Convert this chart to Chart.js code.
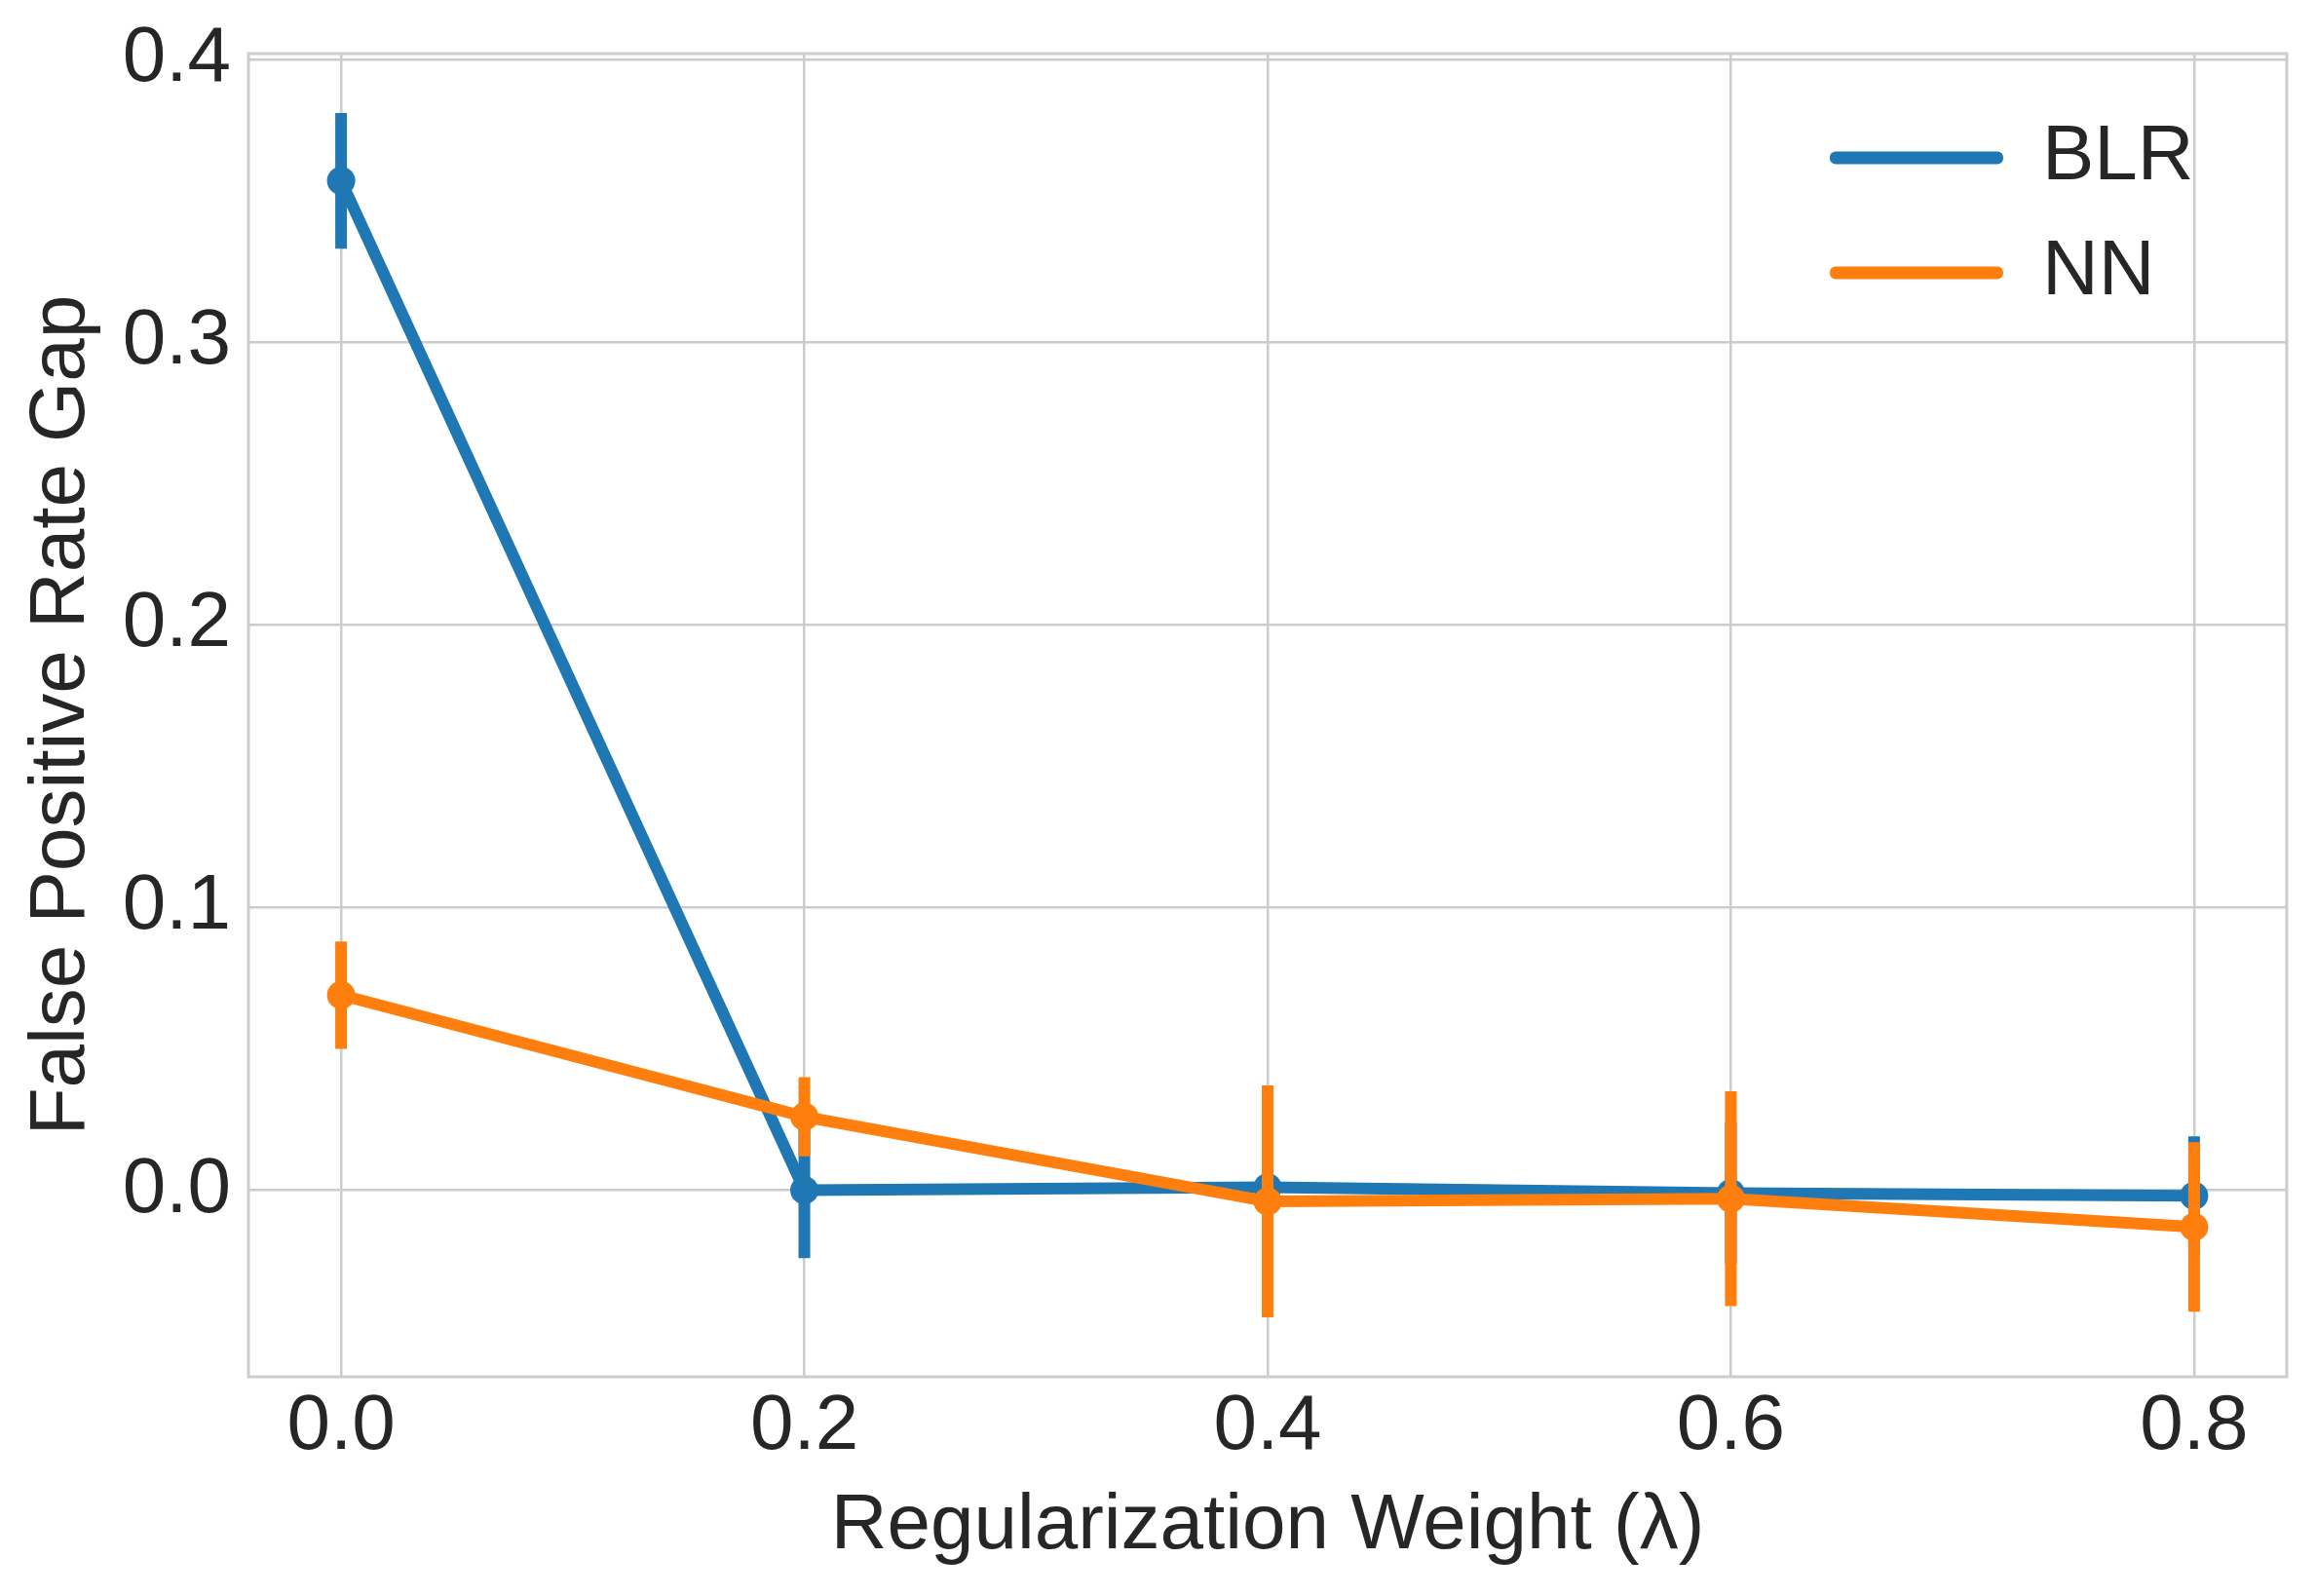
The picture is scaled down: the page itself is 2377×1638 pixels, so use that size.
<!DOCTYPE html>
<html>
<head>
<meta charset="utf-8">
<script src="https://cdn.jsdelivr.net/npm/chart.js@4/dist/chart.umd.min.js"></script>
<style>
  body { margin: 0; background: #fff; }
  #wrap { width: 2377px; height: 1638px; }
</style>
</head>
<body>
<div id="wrap"><canvas id="fprChart"></canvas></div>
<script>
// values
const lambdas = [0.0, 0.2, 0.4, 0.6, 0.8];
const blrGap = [0.357, 0.000, 0.001, -0.001, -0.002];
const blrErr = [0.024, 0.024, 0.024, 0.025, 0.021];
const nnGap = [0.069, 0.026, -0.004, -0.003, -0.013];
const nnErr = [0.019, 0.014, 0.041, 0.038, 0.030];
const xTicks = [0.0, 0.2, 0.4, 0.6, 0.8];
const yTicks = [0.0, 0.1, 0.2, 0.3, 0.4];

const errors = [blrErr, nnErr];
const textColor = '#262626';
const gridColor = '#cccccc';

Chart.defaults.font.family = '"Liberation Sans", Arial, sans-serif';
Chart.defaults.color = textColor;

// vertical error bars, drawn just before each dataset's line
const errorBars = {
    id: 'errorBars',
    beforeDatasetDraw(chart, args) {
        const ds = chart.data.datasets[args.index];
        const err = errors[args.index];
        const xs = chart.scales.x, ys = chart.scales.y;
        const ctx = chart.ctx;
        ctx.save();
        ctx.strokeStyle = ds.borderColor;
        ctx.lineWidth = 12;
        ctx.lineCap = 'butt';
        ds.data.forEach((pt, i) => {
            const px = xs.getPixelForValue(pt.x);
            ctx.beginPath();
            ctx.moveTo(px, ys.getPixelForValue(pt.y - err[i]));
            ctx.lineTo(px, ys.getPixelForValue(pt.y + err[i]));
            ctx.stroke();
        });
        ctx.restore();
    }
};

// light frame round the plot, and legend moved into the upper right
const frame = {
    id: 'frame',
    afterLayout(chart) {
        const lg = chart.legend;
        lg.left = 1840;
        lg.right = lg.left + lg.width;
        lg.top = 84;
        lg.bottom = lg.top + lg.height;
    },
    beforeDatasetsDraw(chart) {
        const {ctx, chartArea: a} = chart;
        ctx.save();
        ctx.strokeStyle = gridColor;
        ctx.lineWidth = 3;
        ctx.strokeRect(a.left, a.top, a.right - a.left, a.bottom - a.top);
        ctx.restore();
    }
};

const chart = new Chart(document.getElementById('fprChart'), {
    type: 'line',
    data: {
        datasets: [
            {
                label: 'BLR',
                data: lambdas.map((x, i) => ({x: x, y: blrGap[i]})),
                borderColor: '#1f77b4',
                backgroundColor: '#1f77b4',
                order: 1
            },
            {
                label: 'NN',
                data: lambdas.map((x, i) => ({x: x, y: nnGap[i]})),
                borderColor: '#ff7f0e',
                backgroundColor: '#ff7f0e',
                order: 0
            }
        ]
    },
    options: {
        responsive: true,
        maintainAspectRatio: false,
        devicePixelRatio: 1,
        animation: false,
        layout: { padding: { left: 0, right: 30, top: 55, bottom: 0 } },
        elements: {
            line: { borderWidth: 12, tension: 0, borderCapStyle: 'round' },
            point: { radius: 14.5, borderWidth: 0, hoverRadius: 14.5 }
        },
        scales: {
            x: {
                type: 'linear',
                min: -0.04,
                max: 0.84,
                afterBuildTicks: (s) => { s.ticks = xTicks.map(v => ({value: v})); },
                afterFit: (s) => { s.height = 225; s.paddingLeft = 0; s.paddingRight = 0; },
                ticks: {
                    padding: 4,
                    font: { size: 80, lineHeight: 1.2 },
                    color: textColor,
                    callback: (v) => v.toFixed(1)
                },
                grid: { color: gridColor, lineWidth: 2.5, drawTicks: false },
                border: { display: false },
                title: {
                    display: true,
                    text: 'Regularization Weight (λ)',
                    font: { size: 80, lineHeight: 1.2 },
                    color: textColor,
                    padding: { top: 0, bottom: 23 }
                }
            },
            y: {
                min: -0.066,
                max: 0.402,
                afterBuildTicks: (s) => { s.ticks = yTicks.map(v => ({value: v})); },
                afterFit: (s) => { s.width = 255; s.paddingTop = 0; s.paddingBottom = 0; },
                ticks: {
                    padding: 18,
                    font: { size: 80, lineHeight: 1.2 },
                    color: textColor,
                    callback: (v) => v.toFixed(1)
                },
                grid: { color: gridColor, lineWidth: 2.5, drawTicks: false },
                border: { display: false },
                title: {
                    display: true,
                    text: 'False Positive Rate Gap',
                    font: { size: 80, lineHeight: 1.2 },
                    color: textColor,
                    padding: { top: 16, bottom: 0 }
                }
            }
        },
        plugins: {
            tooltip: { enabled: false },
            legend: {
                position: 'chartArea',
                align: 'start',
                labels: {
                    boxWidth: 178,
                    boxHeight: 13,
                    padding: 38,
                    useBorderRadius: true,
                    borderRadius: 6,
                    color: textColor,
                    font: { size: 80 },
                    sort: (a, b) => a.datasetIndex - b.datasetIndex,
                    generateLabels: (c) => Chart.defaults.plugins.legend.labels.generateLabels(c)
                        .map(l => Object.assign(l, { lineWidth: 0 }))
                }
            }
        }
    },
    plugins: [errorBars, frame]
});
</script>
</body>
</html>
